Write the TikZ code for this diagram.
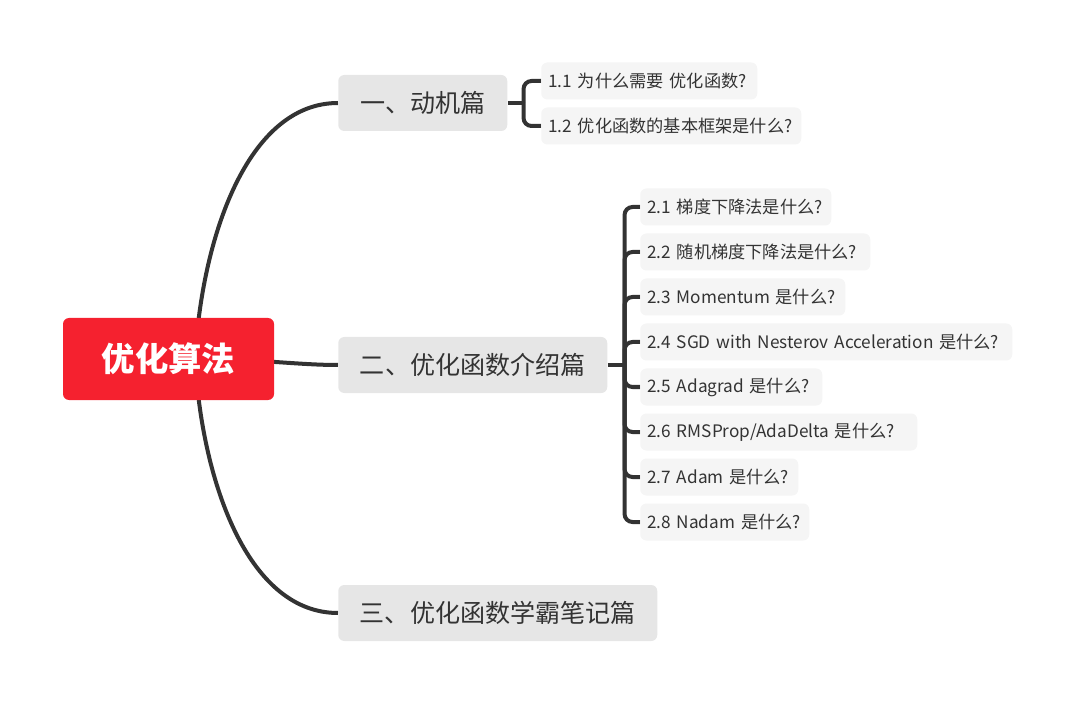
\documentclass[tikz,border=0pt]{standalone}
\usepackage{fontspec}
\setmainfont{Noto Sans CJK SC}
\usetikzlibrary{calc,backgrounds}
\definecolor{rootred}{RGB}{245,33,47}
\definecolor{branchgray}{RGB}{230,230,230}
\definecolor{leafgray}{RGB}{245,245,245}
\definecolor{ink}{RGB}{51,51,51}
\def\px{0.75pt}
\tikzset{
  rootbox/.style={fill=rootred, text=white, rounded corners=4.5pt, inner sep=0pt,
    font=\fontsize{25}{28}\selectfont\bfseries},
  branchbox/.style={fill=branchgray, text=ink, rounded corners=4.5pt, inner sep=0pt,
    anchor=west, minimum height=56*\px, font=\fontsize{18.8}{22}\selectfont},
  leafbox/.style={fill=leafgray, text=ink, rounded corners=4.5pt, inner ysep=0pt,
    inner xsep=7*\px, anchor=west, minimum height=37*\px, align=left,
    text width=(#1-14)*\px, font=\fontsize{12.9}{16}\selectfont,
    execute at begin node={\leavevmode\hbox\bgroup}, execute at end node={\egroup}},
  conn/.style={draw=ink, line width=3pt},
  bracket/.style={draw=ink, line width=3pt, rounded corners=6pt}
}
\begin{document}
\begin{tikzpicture}[x=0.75pt, y=-0.75pt]
\useasboundingbox (0,0) rectangle (1073,705);
% root
\node[rootbox, minimum width=211*\px, minimum height=82*\px] (root) at (168.5,359) {优化算法};
% branches
\node[branchbox, minimum width=169*\px] (b1) at (338,103) {一、动机篇};
\node[branchbox, minimum width=269*\px] (b2) at (338,365) {二、优化函数介绍篇};
\node[branchbox, minimum width=319*\px] (b3) at (338,613) {三、优化函数学霸笔记篇};
% leaves of branch 1
\node[leafbox=216] (l11) at (541,81) {1.1 为什么需要 优化函数?};
\node[leafbox=260] (l12) at (541,126) {1.2 优化函数的基本框架是什么?};
% leaves of branch 2
\node[leafbox=191] (l21) at (640,207) {2.1 梯度下降法是什么?};
\node[leafbox=230] (l22) at (640,252) {2.2 随机梯度下降法是什么?};
\node[leafbox=205] (l23) at (640,297) {2.3 Momentum 是什么?};
\node[leafbox=372] (l24) at (640,342) {2.4 SGD with Nesterov Acceleration 是什么?};
\node[leafbox=182] (l25) at (640,387) {2.5 Adagrad 是什么?};
\node[leafbox=277] (l26) at (640,432) {2.6 RMSProp/AdaDelta 是什么?};
\node[leafbox=158] (l27) at (640,477) {2.7 Adam 是什么?};
\node[leafbox=169] (l28) at (640,522) {2.8 Nadam 是什么?};
% connectors
\begin{scope}[on background layer]
\draw[conn] ($(root.center)+(27.5,-14)$) .. controls ($(root.center)+(36.5,-129)$) and ($(b1.west)+(-88,0)$) .. (b1.west);
\draw[conn] ($(root.center)+(27.5,14)$) .. controls ($(root.center)+(36.5,129)$) and ($(b3.west)+(-88,0)$) .. (b3.west);
\draw[conn] ($(root.center)+(27.5,0)$) .. controls ($(root.center)+(90,0)$) and ($(b2.west)+(-40,0)$) .. (b2.west);
\coordinate (j1) at ($(b1.east)+(16,0)$);
\coordinate (j2) at ($(b2.east)+(17,0)$);
\draw[conn] (b1.east) -- (j1);
\draw[conn] (b2.east) -- (j2);
\foreach \l in {l11,l12} \draw[bracket] (j1) |- (\l.west);
\foreach \l in {l21,l22,l23,l24,l25,l26,l27,l28} \draw[bracket] (j2) |- (\l.west);
\end{scope}
\end{tikzpicture}
\end{document}
